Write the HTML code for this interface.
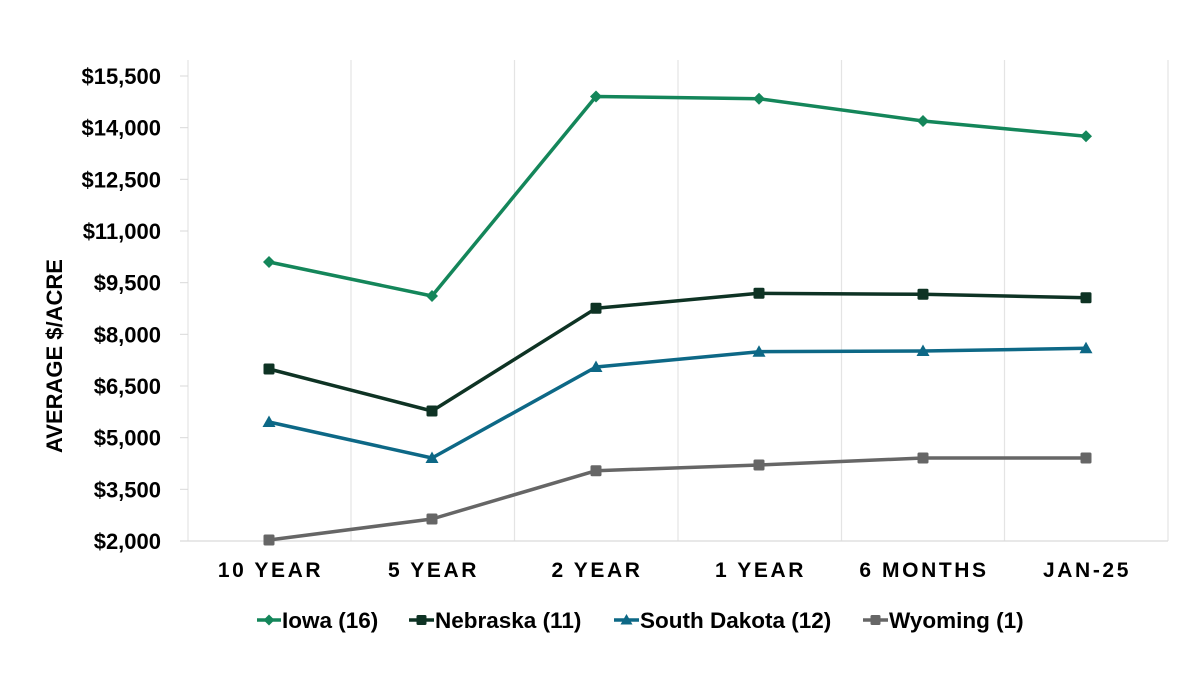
<!DOCTYPE html>
<html>
<head>
<meta charset="utf-8">
<style>
html,body{margin:0;padding:0;background:#fff;}
svg{display:block;}
text{font-family:"Liberation Sans",Arial,sans-serif;font-weight:bold;fill:#000;}
</style>
</head>
<body>
<svg width="1200" height="685" viewBox="0 0 1200 685" xmlns="http://www.w3.org/2000/svg">
  <rect width="1200" height="685" fill="#fff"/>
  <!-- vertical gridlines -->
  <g stroke="#e4e4e4" stroke-width="1.2">
    <line x1="188" y1="60" x2="188" y2="541"/>
    <line x1="351" y1="60" x2="351" y2="541"/>
    <line x1="514.5" y1="60" x2="514.5" y2="541"/>
    <line x1="678" y1="60" x2="678" y2="541"/>
    <line x1="841.5" y1="60" x2="841.5" y2="541"/>
    <line x1="1004.5" y1="60" x2="1004.5" y2="541"/>
    <line x1="1168" y1="60" x2="1168" y2="541"/>
  </g>
  <!-- x axis line -->
  <line x1="180" y1="541" x2="1168" y2="541" stroke="#d9d9d9" stroke-width="1.2"/>
  <!-- y ticks -->
  <g stroke="#d9d9d9" stroke-width="1">
    <line x1="180" y1="76" x2="188" y2="76"/>
    <line x1="180" y1="127.7" x2="188" y2="127.7"/>
    <line x1="180" y1="179.3" x2="188" y2="179.3"/>
    <line x1="180" y1="231" x2="188" y2="231"/>
    <line x1="180" y1="282.7" x2="188" y2="282.7"/>
    <line x1="180" y1="334.3" x2="188" y2="334.3"/>
    <line x1="180" y1="386" x2="188" y2="386"/>
    <line x1="180" y1="437.7" x2="188" y2="437.7"/>
    <line x1="180" y1="489.3" x2="188" y2="489.3"/>
  </g>
  <!-- y tick labels -->
  <g font-size="22" text-anchor="end">
    <text x="161" y="84">$15,500</text>
    <text x="161" y="135.7">$14,000</text>
    <text x="161" y="187.3">$12,500</text>
    <text x="161" y="239">$11,000</text>
    <text x="161" y="290.7">$9,500</text>
    <text x="161" y="342.3">$8,000</text>
    <text x="161" y="394">$6,500</text>
    <text x="161" y="445.7">$5,000</text>
    <text x="161" y="497.3">$3,500</text>
    <text x="161" y="549">$2,000</text>
  </g>
  <!-- y axis title -->
  <text x="0" y="0" font-size="22" text-anchor="middle" transform="translate(62,356) rotate(-90)">AVERAGE $/ACRE</text>
  <!-- x labels -->
  <g font-size="21" text-anchor="middle" letter-spacing="2.6">
    <text x="270.5" y="577">10 YEAR</text>
    <text x="433.5" y="577">5 YEAR</text>
    <text x="597" y="577">2 YEAR</text>
    <text x="760.5" y="577">1 YEAR</text>
    <text x="924" y="577">6 MONTHS</text>
    <text x="1087" y="577">JAN-25</text>
  </g>

  <!-- Wyoming -->
  <g>
    <polyline points="269,540 432,519 596,470.7 759,465 923,458 1086,458" fill="none" stroke="#666666" stroke-width="3.5" stroke-linejoin="round"/>
    <g fill="#666666">
      <rect x="263.5" y="534.5" width="11" height="11" rx="1.5"/>
      <rect x="426.5" y="513.5" width="11" height="11" rx="1.5"/>
      <rect x="590.5" y="465.2" width="11" height="11" rx="1.5"/>
      <rect x="753.5" y="459.5" width="11" height="11" rx="1.5"/>
      <rect x="917.5" y="452.5" width="11" height="11" rx="1.5"/>
      <rect x="1080.5" y="452.5" width="11" height="11" rx="1.5"/>
    </g>
  </g>
  <!-- South Dakota -->
  <g>
    <polyline points="269,422 432,458 596,367 759,351.7 923,351 1086,348.3" fill="none" stroke="#0d6886" stroke-width="3.5" stroke-linejoin="round"/>
    <g fill="#0d6886">
      <polygon points="269,415.5 275.5,427 262.5,427"/>
      <polygon points="432,451.5 438.5,463 425.5,463"/>
      <polygon points="596,360.5 602.5,372 589.5,372"/>
      <polygon points="759,345.2 765.5,356.7 752.5,356.7"/>
      <polygon points="923,344.5 929.5,356 916.5,356"/>
      <polygon points="1086,341.8 1092.5,353.3 1079.5,353.3"/>
    </g>
  </g>
  <!-- Nebraska -->
  <g>
    <polyline points="269,369 432,411 596,308.3 759,293.3 923,294.3 1086,297.7" fill="none" stroke="#0e3324" stroke-width="3.5" stroke-linejoin="round"/>
    <g fill="#0e3324">
      <rect x="263.5" y="363.5" width="11" height="11" rx="1.5"/>
      <rect x="426.5" y="405.5" width="11" height="11" rx="1.5"/>
      <rect x="590.5" y="302.8" width="11" height="11" rx="1.5"/>
      <rect x="753.5" y="287.8" width="11" height="11" rx="1.5"/>
      <rect x="917.5" y="288.8" width="11" height="11" rx="1.5"/>
      <rect x="1080.5" y="292.2" width="11" height="11" rx="1.5"/>
    </g>
  </g>
  <!-- Iowa -->
  <g>
    <polyline points="269,262 432,296 596,96.5 759,98.7 923,121 1086,136.3" fill="none" stroke="#14865a" stroke-width="3.5" stroke-linejoin="round"/>
    <g fill="#14865a">
      <polygon points="269,256 275,262 269,268 263,262"/>
      <polygon points="432,290 438,296 432,302 426,296"/>
      <polygon points="596,90.5 602,96.5 596,102.5 590,96.5"/>
      <polygon points="759,92.7 765,98.7 759,104.7 753,98.7"/>
      <polygon points="923,115 929,121 923,127 917,121"/>
      <polygon points="1086,130.3 1092,136.3 1086,142.3 1080,136.3"/>
    </g>
  </g>

  <!-- legend -->
  <g font-size="22.5">
    <line x1="257" y1="620" x2="281" y2="620" stroke="#14865a" stroke-width="3.5"/>
    <polygon points="269,614.5 274.5,620 269,625.5 263.5,620" fill="#14865a"/>
    <text x="282" y="628">Iowa (16)</text>

    <line x1="409" y1="620" x2="434" y2="620" stroke="#0e3324" stroke-width="3.5"/>
    <rect x="416.5" y="615" width="10" height="10" rx="1.5" fill="#0e3324"/>
    <text x="435" y="628">Nebraska (11)</text>

    <line x1="614" y1="620" x2="639" y2="620" stroke="#0d6886" stroke-width="3.5"/>
    <polygon points="626.5,614 632.5,624.5 620.5,624.5" fill="#0d6886"/>
    <text x="640" y="628">South Dakota (12)</text>

    <line x1="863" y1="620" x2="888" y2="620" stroke="#666666" stroke-width="3.5"/>
    <rect x="870.5" y="615" width="10" height="10" rx="1.5" fill="#666666"/>
    <text x="889" y="628">Wyoming (1)</text>
  </g>
</svg>
</body>
</html>
